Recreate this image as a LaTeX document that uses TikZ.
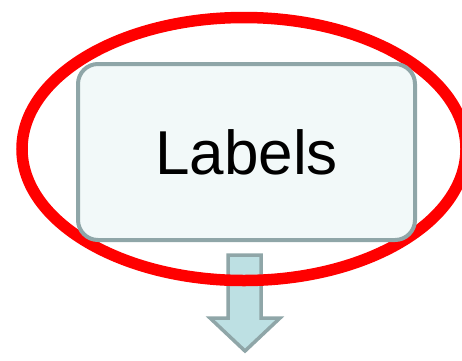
\documentclass[tikz,border=0pt]{standalone}
\usepackage{fontspec}
\setmainfont{Liberation Sans}
\usetikzlibrary{shapes.geometric}
\definecolor{boxfill}{HTML}{F2F9F9}
\definecolor{boxline}{HTML}{8FA6A8}
\definecolor{arrowfill}{HTML}{BDE0E3}
\tikzset{
  labelbox/.style={draw=boxline, line width=4pt, fill=boxfill, rounded corners=20pt,
    minimum width=337pt, minimum height=176pt, inner sep=0pt, outer sep=0pt,
    font=\fontsize{62pt}{70pt}\selectfont},
  highlight/.style={draw=red, line width=11.5pt, ellipse, minimum width=444pt, minimum height=263pt, inner sep=0pt, outer sep=0pt},
  downarrow/.style={draw=boxline, line width=3.5pt, fill=arrowfill, line join=miter}
}
\begin{document}
\begin{tikzpicture}[x=1pt,y=-1pt]
\useasboundingbox (0,0) rectangle (462,360);
\coordinate (a1) at (228,255);
\coordinate (a2) at (261,255);
\coordinate (a3) at (261,318);
\coordinate (a4) at (280,318);
\coordinate (tip) at (245,351);
\coordinate (a6) at (210,318);
\coordinate (a7) at (228,318);
\draw[downarrow] (a1) -- (a2) -- (a3) -- (a4) -- (tip) -- (a6) -- (a7) -- cycle;
\node[highlight] (hl) at (244,149) {};
\node[labelbox] (box) at (246.5,152) {Labels};
\end{tikzpicture}
\end{document}
